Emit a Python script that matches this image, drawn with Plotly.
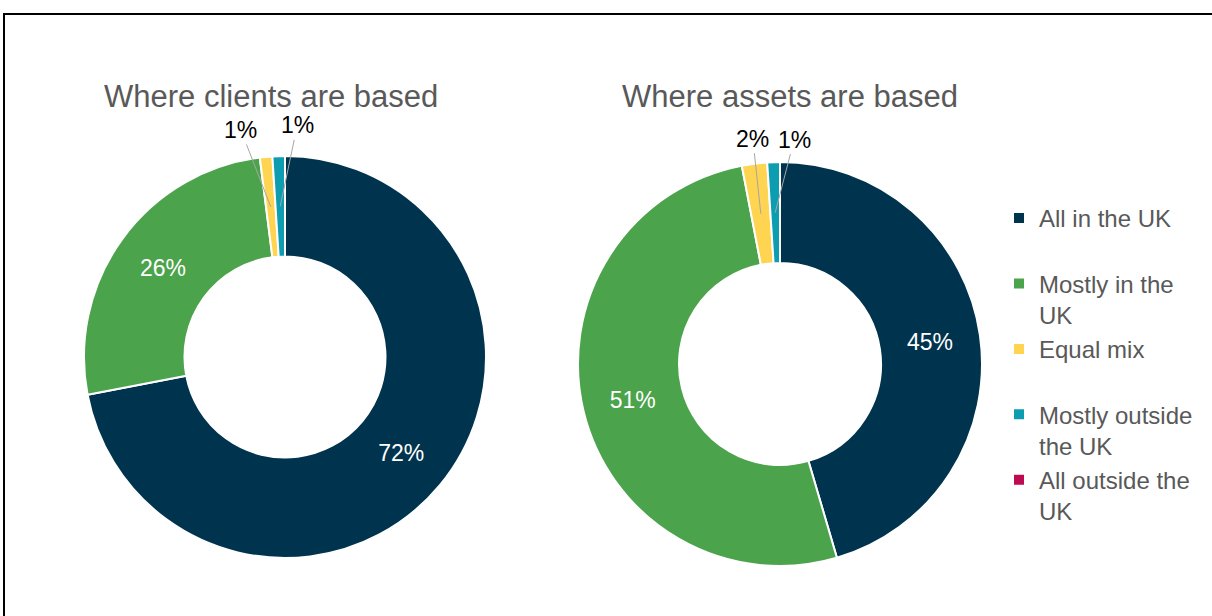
import math
import plotly.graph_objects as go

# data
categories = ["All in the UK", "Mostly in the UK", "Equal mix",
              "Mostly outside the UK", "All outside the UK"]
legend_labels = ["All in the UK<br> ", "Mostly in the<br>UK", "Equal mix<br> ",
                 "Mostly outside<br>the UK", "All outside the<br>UK"]
clients_pct = [72, 26, 1, 1, 0]
assets_pct = [45, 51, 2, 1, 0]
colours = ["#00334E", "#4BA34B", "#FFD451", "#0C9DB0", "#BE0A50"]

FONT = "Arial, Liberation Sans, sans-serif"
W, H = 1212, 616

# pie boxes (paper coords)
left_x, left_y = [84 / W, 486 / W], [1 - 558 / H, 1 - 156 / H]
right_x, right_y = [578 / W, 982 / W], [1 - 566 / H, 1 - 162 / H]

# label offsets (px) for the small slices that get a leader line
left_offsets = [None, None, (-30, -77), (17, -81), None]
right_offsets = [None, None, (-8, -75), (19, -73), None]


def donut(values, domain_x, domain_y, show_legend):
    return go.Pie(
        labels=legend_labels,
        values=values,
        hole=0.5,
        sort=False,
        direction="clockwise",
        rotation=0,
        marker=dict(colors=colours, line=dict(color="white", width=2)),
        texttemplate=["%{value}%" if v >= 10 else "" for v in values],
        textposition=["inside" if v >= 10 else "none" for v in values],
        insidetextorientation="horizontal",
        insidetextfont=dict(color="white", size=23, family=FONT),
        domain=dict(x=domain_x, y=domain_y),
        showlegend=show_legend,
        hoverinfo="label+value",
    )


def leader_labels(fig, values, domain_x, domain_y, offsets):
    # point in the middle of the ring at each small slice's mid angle
    cx = (domain_x[0] + domain_x[1]) / 2 * W
    cy = (1 - (domain_y[0] + domain_y[1]) / 2) * H
    r = (domain_x[1] - domain_x[0]) * W / 2 * 0.75
    total = sum(values)
    cum = 0
    for v, off in zip(values, offsets):
        mid = (cum + v / 2) / total * 2 * math.pi
        cum += v
        if off is None or v == 0:
            continue
        px = cx + r * math.sin(mid)
        py = cy - r * math.cos(mid)
        fig.add_annotation(x=px / W, y=1 - py / H, xref="paper", yref="paper",
                           ax=off[0], ay=off[1], text=f"{v}%", showarrow=True,
                           arrowhead=0, arrowwidth=1, arrowcolor="#A6A6A6",
                           standoff=0, startstandoff=0,
                           font=dict(size=23, color="black", family=FONT))


fig = go.Figure()
fig.add_trace(donut(clients_pct, left_x, left_y, True))
fig.add_trace(donut(assets_pct, right_x, right_y, False))
leader_labels(fig, clients_pct, left_x, left_y, left_offsets)
leader_labels(fig, assets_pct, right_x, right_y, right_offsets)

# chart titles
for txt, xc in [("Where clients are based", 271), ("Where assets are based", 790)]:
    fig.add_annotation(text=txt, x=xc / W, y=1 - 96 / H, xref="paper", yref="paper",
                       showarrow=False, xanchor="center", yanchor="middle",
                       font=dict(size=31, color="#595959", family=FONT))

# outer frame
fig.add_shape(type="rect", xref="paper", yref="paper",
              x0=4 / W, x1=1.02, y0=-0.02, y1=1 - 14 / H,
              line=dict(color="black", width=2))

fig.update_layout(
    width=W, height=H,
    margin=dict(l=0, r=0, t=0, b=0),
    paper_bgcolor="white",
    font=dict(family=FONT, size=24, color="#595959"),
    legend=dict(x=999 / W, y=1 - 196 / H, xanchor="left", yanchor="top",
                font=dict(size=24, color="#595959", family=FONT),
                itemwidth=30, traceorder="normal", valign="top"),
)

fig.write_html("out.html", config={"displayModeBar": False},
               post_script="document.body.style.margin='0';"
                           "document.body.style.overflow='hidden';")
